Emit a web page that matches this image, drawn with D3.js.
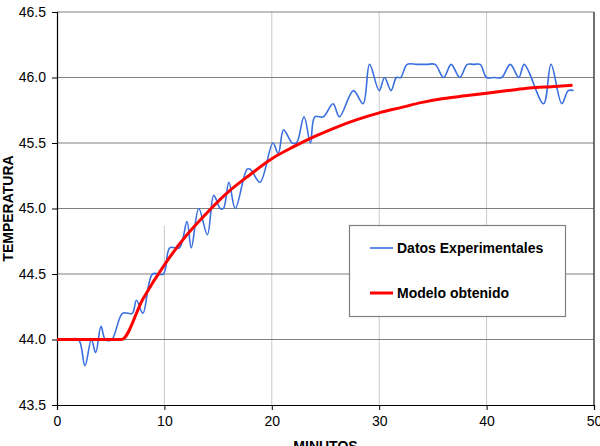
<!DOCTYPE html>
<html><head><meta charset="utf-8">
<script src="https://cdn.jsdelivr.net/npm/d3@7"></script>
<style>
html,body{margin:0;padding:0;background:#fff;}
svg{display:block;font-family:Arial,"Liberation Sans",sans-serif;}
</style></head>
<body><svg id="c" width="600" height="446"></svg>
<script>
// Experimental data (minutes, temperature)
const expTime = [0,1.0,2.0,2.6,3.2,3.6,4.1,4.5,5.1,6.1,7.0,7.4,8.0,8.9,9.9,10.5,11.4,12.1,12.5,13.2,14.0,14.6,15.2,15.5,16.0,16.6,17.7,18.0,18.9,20.1,20.6,21.1,21.9,22.3,23.0,23.6,24.0,24.8,25.7,26.3,27.6,28.5,29.1,30.0,30.5,31.1,31.6,32.0,32.6,33.5,34.4,35.2,36.0,36.7,37.5,38.2,38.8,39.4,40.0,40.7,41.4,42.2,43.0,43.5,45.3,46.0,47.0,47.6,48.1];
const expTemp = [44.0,44.0,44.0,43.8,44.0,43.9,44.1,44.0,44.0,44.2,44.2,44.3,44.2,44.5,44.5,44.7,44.7,44.9,44.7,45.0,44.8,45.1,45.0,45.0,45.2,45.0,45.3,45.3,45.2,45.5,45.42,45.6,45.5,45.5,45.7,45.5,45.7,45.7,45.8,45.7,45.9,45.8,46.1,45.9,46.0,45.9,46.0,46.0,46.1,46.1,46.1,46.1,46.0,46.1,46.0,46.1,46.1,46.1,46.0,46.0,46.0,46.1,46.0,46.1,45.8,46.1,45.8,45.9,45.9];
// Model (minutes, temperature)
const modTime = [0,6,8,10,12,14,16,18,20,22,24,26,28,30,32,34,36,38,40,42,44,46,48];
const modTemp = [44.00,44.00,44.31,44.57,44.79,44.97,45.13,45.26,45.38,45.47,45.55,45.62,45.68,45.73,45.77,45.81,45.84,45.86,45.88,45.90,45.92,45.93,45.94];
const xTicks = [0,10,20,30,40,50];
const yTicks = [43.5,44.0,44.5,45.0,45.5,46.0,46.5];
const seriesNames = ["Datos Experimentales","Modelo obtenido"];
const seriesColors = ["#3a6fe0","#ff0000"];

const svg = d3.select("#c");
const L=57,R=594,T=12,B=405;
const x = d3.scaleLinear().domain([0,50]).range([L,R]);
const y = d3.scaleLinear().domain([43.5,46.5]).range([B,T]);

// vertical grid (light)
svg.append("g").selectAll("line").data([10,20,30,40]).join("line")
  .attr("x1",d=>x(d)).attr("x2",d=>x(d))
  .attr("y1",d=>d===10?y(44.87):T).attr("y2",B)
  .attr("stroke","#c8c8c8").attr("stroke-width",1);
// horizontal grid (dark)
svg.append("g").selectAll("line").data(yTicks.slice(1)).join("line")
  .attr("x1",L).attr("x2",R).attr("y1",d=>y(d)).attr("y2",d=>y(d))
  .attr("stroke","#808080").attr("stroke-width",1.2);
// right border
svg.append("line").attr("x1",R).attr("x2",R).attr("y1",T).attr("y2",B)
  .attr("stroke","#404040").attr("stroke-width",1.5);

// axes
const yAxis = svg.append("g").attr("transform",`translate(${L},0)`)
  .call(d3.axisLeft(y).tickValues(yTicks).tickFormat(d3.format(".1f")).tickSizeOuter(0).tickSize(5).tickPadding(6));
const xAxis = svg.append("g").attr("transform",`translate(0,${B})`)
  .call(d3.axisBottom(x).tickValues(xTicks).tickFormat(d3.format("d")).tickSizeOuter(0).tickSize(5).tickPadding(6));
[yAxis,xAxis].forEach(g=>{
  g.selectAll("path").attr("stroke","#000").attr("stroke-width",1.2);
  g.selectAll("line").attr("stroke","#000");
  g.selectAll("text").attr("font-size",14).attr("fill","#000").attr("font-family","Arial, 'Liberation Sans', sans-serif");
});

// lines
const expData = expTime.map((t,i)=>[t,expTemp[i]]);
const modData = modTime.map((t,i)=>[t,modTemp[i]]);
svg.append("path").datum(expData)
  .attr("d",d3.line().x(d=>x(d[0])).y(d=>y(d[1])).curve(d3.curveCatmullRom.alpha(0.5)))
  .attr("fill","none").attr("stroke",seriesColors[0]).attr("stroke-width",1.6);
svg.append("path").datum(modData)
  .attr("d",d3.line().x(d=>x(d[0])).y(d=>y(d[1])).curve(d3.curveMonotoneX))
  .attr("fill","none").attr("stroke",seriesColors[1]).attr("stroke-width",3);

// axis titles
svg.append("text").attr("x",(L+R)/2).attr("y",451).attr("text-anchor","middle")
  .attr("font-size",14).attr("font-weight","bold").text("MINUTOS");
svg.append("text").attr("transform",`translate(13,${(T+B)/2}) rotate(-90)`).attr("text-anchor","middle")
  .attr("font-size",14).attr("font-weight","bold").text("TEMPERATURA");

// legend
const lg = svg.append("g");
lg.append("rect").attr("x",349.5).attr("y",225.5).attr("width",216).attr("height",91)
  .attr("fill","#fff").attr("stroke","#808080").attr("stroke-width",1.2);
[0,1].forEach(i=>{
  const ly = 248 + i*45;
  lg.append("line").attr("x1",370).attr("x2",393).attr("y1",ly).attr("y2",ly)
    .attr("stroke",seriesColors[i]).attr("stroke-width",i?3:1.6);
  lg.append("text").attr("x",397).attr("y",ly+5).attr("font-size",14).attr("font-weight","bold")
    .text(seriesNames[i]);
});
</script></body></html>
